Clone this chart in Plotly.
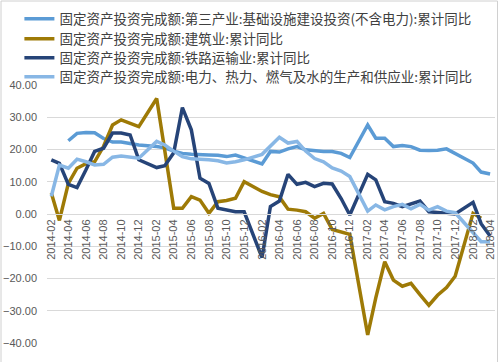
import plotly.graph_objects as go

months = (
    [f"2014-{m:02d}" for m in range(2, 13)]
    + [f"2015-{m:02d}" for m in range(2, 13)]
    + [f"2016-{m:02d}" for m in range(2, 13)]
    + [f"2017-{m:02d}" for m in range(2, 13)]
    + ["2018-02", "2018-03", "2018-04"]
)
dates = [m + "-01" for m in months]

names = [
    "固定资产投资完成额:第三产业:基础设施建设投资(不含电力):累计同比",
    "固定资产投资完成额:建筑业:累计同比",
    "固定资产投资完成额:铁路运输业:累计同比",
    "固定资产投资完成额:电力、热力、燃气及水的生产和供应业:累计同比",
]

infra = [None, None, 22.7, 25.0, 25.3, 25.2, 23.4, 22.3, 22.3, 21.8, 21.4,
         20.9, 20.5, 19.5, 18.8, 18.5, 18.5, 18.3, 18.2, 17.8, 18.3, 17.3,
         15.5, 19.4, 19.2, 20.2, 20.9, 19.9, 19.6, 19.4, 19.4, 18.8, 17.5,
         27.6, 23.5, 23.5, 20.9, 21.2, 20.9, 19.8, 19.7, 19.8, 20.2, 18.8,
         15.8, 13.0, 12.4]

construction = [6.5, -2.0, 9.5, 14.2, 15.6, 16.2, 21.0, 27.6, 29.2, 28.2, 27.1,
                35.8, 19.0, 1.8, 1.8, 5.4, 4.3, 0.2, 3.8, 4.2, 4.9, 10.0,
                7.0, 6.0, 5.3, 1.5, 1.2, 0.7, -1.3, 0.2, -4.8, -5.5, -6.3,
                -37.5, -26.0, -14.8, -20.5, -22.4, -21.5, -25.0, -28.3, -25.2, -22.8, -19.3,
                0.2, -1.3, None]

railway = [16.8, 15.7, 9.2, 8.2, 13.7, 19.4, 20.4, 25.1, 25.1, 24.5, 16.8,
           14.4, 15.0, 19.0, 33.0, 26.1, 11.1, 9.5, 1.8, 1.2, 0.7, 0.7,
           -13.5, 2.3, 4.0, 12.3, 9.2, 9.8, 8.5, 9.5, 9.3, 4.8, -0.3,
           12.3, 10.6, 3.8, 3.3, 2.3, 3.1, 4.0, 0.7, 0.4, 0.3, 0.0,
           3.6, -3.0, -6.8]

power = [5.5, 15.2, 14.2, 17.0, 16.2, 15.2, 15.4, 17.6, 18.0, 17.7, 17.3,
         22.5, 21.4, 19.5, 17.8, 17.1, 17.0, 16.8, 16.5, 15.8, 16.2, 16.8,
         18.5, 21.0, 23.8, 22.0, 22.5, 19.5, 17.2, 16.2, 14.3, 13.3, 11.6,
         0.9, 2.8, 1.3, 2.3, 3.0, 1.6, 3.0, 1.2, 2.3, 0.9, 0.4,
         -5.8, -8.6, -8.6]

series = [infra, construction, railway, power]
colors = ["#5B9BD5", "#9E7A06", "#264478", "#88B7E5"]
legend_ids = ["legend", "legend2", "legend3", "legend4"]

W, H = 499, 362
ml, mr, mt, mb = 47, 4, 85, 19
pw, ph = W - ml - mr, H - mt - mb

fig = go.Figure()
for name, vals, col, lid in zip(names, series, colors, legend_ids):
    fig.add_trace(go.Scatter(
        x=dates, y=vals, name=name, mode="lines",
        line=dict(color=col, width=3.5),
        connectgaps=False, legend=lid,
    ))

row_y = [19, 39, 58, 77]
legend_font = dict(size=13.5, color="#404040", family="Noto Sans CJK SC, sans-serif")
legend_layout = {}
for lid, ry in zip(legend_ids, row_y):
    legend_layout[lid] = dict(
        xref="container", yref="container",
        x=19.4 / W, y=1 - ry / H, xanchor="left", yanchor="middle",
        font=legend_font, bgcolor="rgba(0,0,0,0)",
        itemwidth=30, borderwidth=0,
    )

fig.update_layout(
    width=W, height=H,
    margin=dict(l=ml, r=mr, t=mt, b=mb, autoexpand=False),
    paper_bgcolor="white", plot_bgcolor="white",
    font=dict(family="Noto Sans CJK SC, Liberation Sans, sans-serif", color="#404040"),
    showlegend=True,
    **legend_layout,
    xaxis=dict(
        type="date",
        range=["2014-01-17", "2018-04-18"],
        tick0="2014-02-01", dtick="M2",
        tickformat="%Y-%m",
        tickangle=-90,
        tickfont=dict(size=11, color="#595959", family="Liberation Sans, Arial, sans-serif"),
        showgrid=False,
        showline=True, linecolor="#d9d9d9", linewidth=1,
        ticks="",
        anchor="free", position=0.5,
        zeroline=False,
    ),
    yaxis=dict(
        range=[-40, 40], dtick=10, tick0=0,
        tickformat=".2f",
        tickfont=dict(size=11, color="#595959", family="Liberation Sans, Arial, sans-serif"),
        showgrid=True, gridcolor="#d9d9d9", gridwidth=1,
        zeroline=False, showline=False, ticks="",
        ticklabelstandoff=9,
    ),
    shapes=[dict(
        type="rect", xref="paper", yref="paper",
        x0=(1 - ml) / pw, x1=(W - 1.5 - ml) / pw,
        y0=(H - mt - 361) / ph, y1=(H - mb - 1) / ph,
        line=dict(color="#d0d0d0", width=1), fillcolor="rgba(0,0,0,0)",
        layer="below",
    )],
)

fig.write_html(
    "out.html",
    config={"displayModeBar": False},
    post_script="document.body.style.margin='0';document.body.style.padding='0';",
)
